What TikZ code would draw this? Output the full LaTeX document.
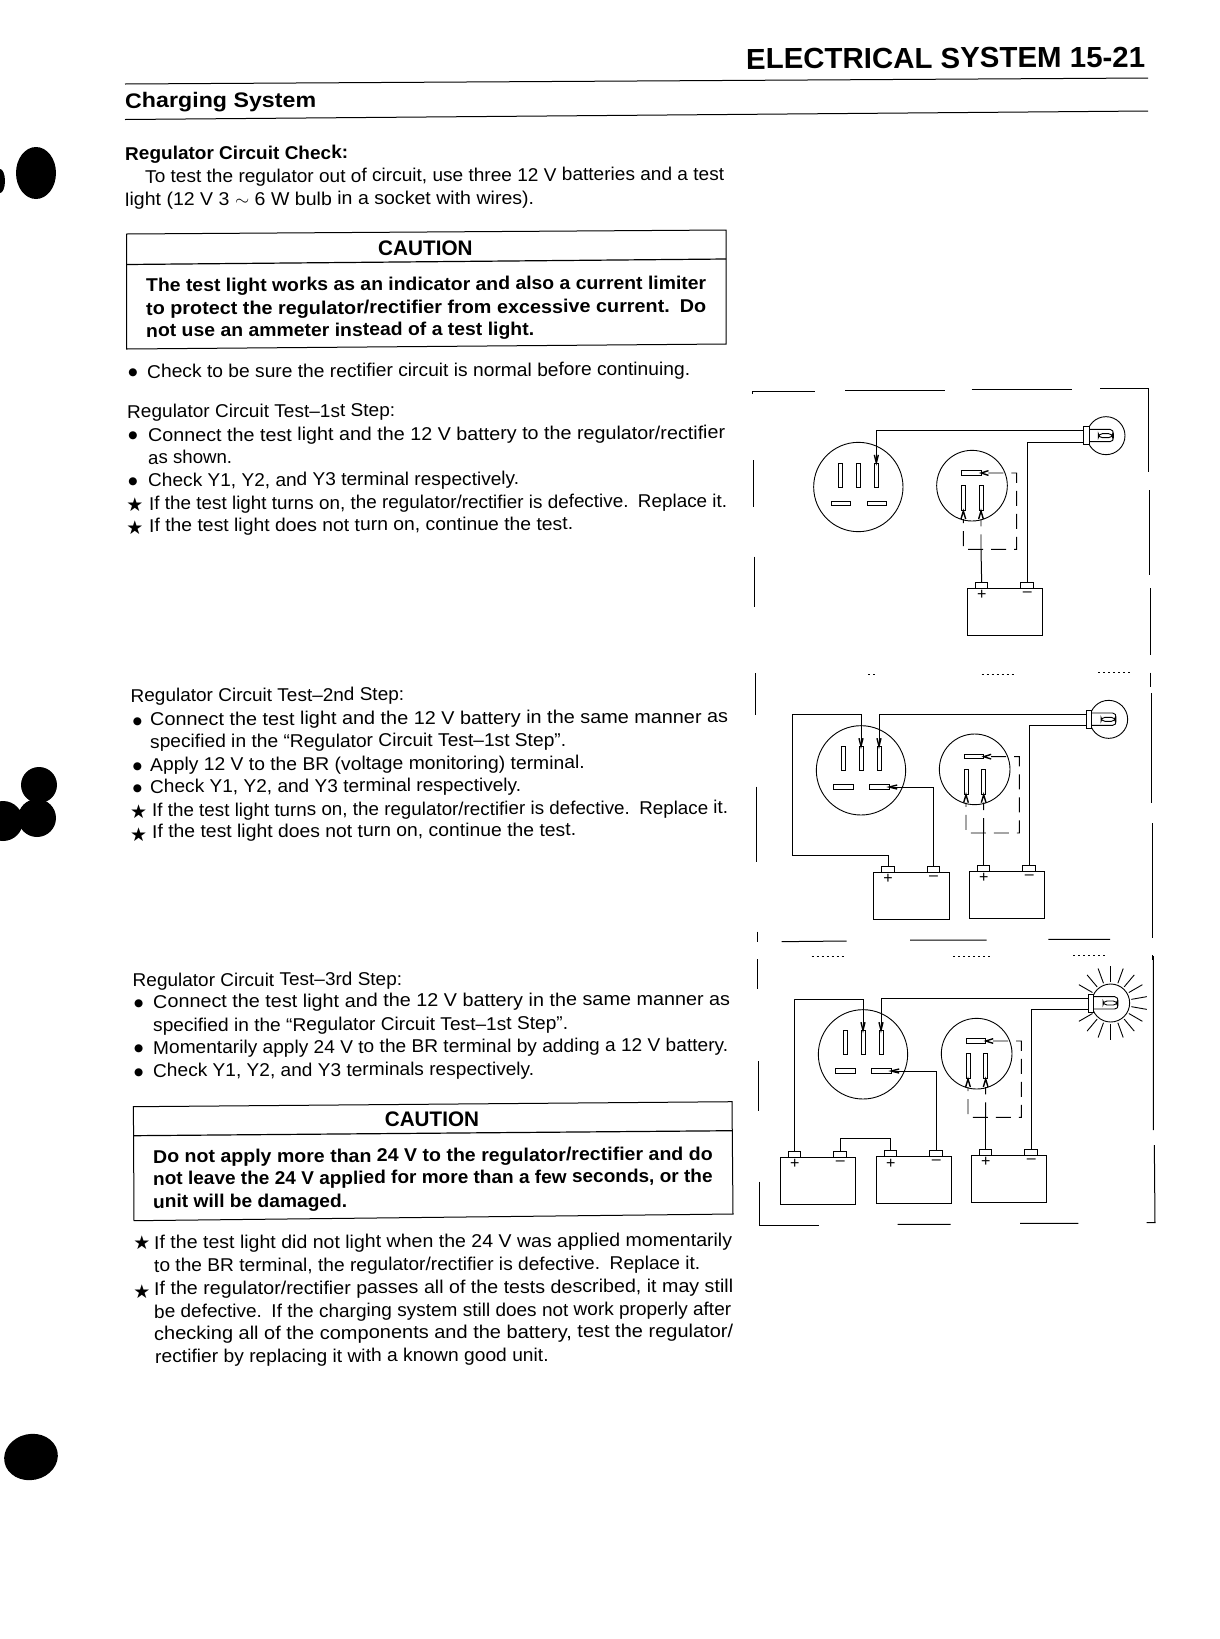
\documentclass[tikz,border=0pt]{standalone}
\usepackage{fontspec}
\setmainfont{Liberation Sans}
\newfontfamily\symfont{DejaVu Sans}
\tikzset{
  linetxt/.style={anchor=base west,inner sep=0pt,rotate=0.28,font=\fontsize{18.5}{21}\selectfont},
  boldtxt/.style={linetxt,font=\fontsize{18.5}{21}\selectfont\bfseries},
  headtxt/.style={linetxt,font=\fontsize{21}{24}\selectfont\bfseries},
  titletxt/.style={linetxt,font=\fontsize{29}{30}\selectfont\bfseries},
  dotmark/.style={inner sep=0pt,font=\fontsize{10.5}{11}\selectfont\symfont},
  starmark/.style={inner sep=0pt,font=\fontsize{19}{19}\selectfont\symfont},
  rulecut/.style={line width=1pt},
  framepiece/.style={line width=1pt},
  faintdots/.style={line width=0.8pt,dash pattern=on 2pt off 3pt},
  wire/.style={line width=1pt},
  dashwire/.style={line width=0.9pt,dash pattern=on 15pt off 8pt},
  forkline/.style={line width=1.4pt},
  rayline/.style={line width=0.9pt},
  plugface/.style={circle,draw,fill=white,line width=0.9pt,minimum size=268pt,inner sep=0pt},
  sensface/.style={circle,draw,fill=white,line width=0.9pt,minimum size=212pt,inner sep=0pt},
  vblade/.style={rectangle,draw,fill=white,line width=0.9pt,minimum width=12pt,minimum height=72pt,inner sep=0pt},
  hblade/.style={rectangle,draw,fill=white,line width=0.9pt,minimum width=58pt,minimum height=13pt,inner sep=0pt},
  batbox/.style={rectangle,draw,fill=white,line width=0.9pt,minimum width=226pt,minimum height=140pt,inner sep=0pt},
  batpost/.style={rectangle,draw,fill=white,line width=0.9pt,minimum width=37pt,minimum height=18pt,inner sep=0pt},
  batsign/.style={inner sep=0pt,font=\fontsize{48}{48}\selectfont},
  bulbglass/.style={circle,draw,line width=0.9pt,minimum size=114pt,inner sep=0pt},
  bulbbase/.style={rectangle,draw,fill=white,line width=0.9pt,minimum width=16pt,minimum height=54pt,inner sep=0pt}
}
\newcommand{\fitto}[2]{\resizebox{#1pt}{\height}{#2}}
\newcommand{\crimp}[3]{\draw[forkline] #1 ++#2 -- #1 -- ++#3;}
\newcommand{\regplug}[3]{%
  \begin{scope}[shift={(#2,#3)}]
    \node[plugface] (#1) at (0,0) {};
    \node[vblade] (#1a) at (-53,-36) {};
    \node[vblade] (#1b) at (0,-36) {};
    \node[vblade] (#1c) at (54,-36) {};
    \node[hblade] (#1d) at (-53,50) {};
    \node[hblade] (#1e) at (55,50) {};
  \end{scope}}
\newcommand{\sensplug}[3]{%
  \begin{scope}[shift={(#2,#3)}]
    \node[sensface] (#1) at (0,0) {};
    \node[hblade] (#1h) at (-2,-38) {};
    \node[vblade,minimum height=75pt] (#1l) at (-26,38) {};
    \node[vblade,minimum height=75pt] (#1r) at (27,38) {};
    \crimp{(#1h.east)}{(22,-7)}{(22,7)}
    \crimp{(#1l.south)}{(-7,24)}{(7,24)}
    \crimp{(#1r.south)}{(-7,24)}{(7,24)}
    \coordinate (#1c) at (134,191);
    \coordinate (#1e) at (-26,191);
    \coordinate (#1j) at (27,191);
    \draw[dashwire] (#1h.east) ++(22,0) -| (#1c) -- (#1e) -- (-26,100);
    \draw[dashwire] (#1j) -- (27,100);
  \end{scope}}
\newcommand{\testbulb}[3]{%
  \begin{scope}[shift={(#2,#3)}]
    \node[bulbglass] (#1) at (0,0) {};
    \draw[line width=0.9pt] (-51,-19) -- (12,-19) .. controls (20,-19) and (22,-12) .. (22,-6) -- (22,6) .. controls (22,12) and (20,18) .. (12,18) -- (-51,18);
    \draw[line width=0.9pt,rounded corners=4pt] (-23,-6) rectangle (20,6);
    \node[bulbbase] (#1s) at (-59,0) {};
    \coordinate (#1t) at (-67,-15);
    \coordinate (#1b) at (-67,19);
  \end{scope}}
\newcommand{\testbat}[3]{%
  \begin{scope}[shift={(#2,#3)}]
    \node[batpost] (#1p) at (43,-9) {};
    \node[batpost] (#1n) at (179,-9) {};
    \node[batbox] (#1) at (113,70) {};
    \node[batsign] (#1ps) at (43,21) {+};
    \node[batsign] (#1ns) at (180,17) {–};
  \end{scope}}
\begin{document}
\begin{tikzpicture}[x=1pt,y=-1pt]
  \useasboundingbox (0,0) rectangle (1219,1639);
  \fill (36,173) ellipse (20 and 26);
  \fill (0,181) ellipse (5 and 12);
  \fill (39,785) circle (18);
  \fill (37,818) circle (19);
  \fill (3,821) circle (20);
  \fill[rotate around={12:(31,1457)}] (31,1457) ellipse (27 and 23);

  \node[titletxt] (pagetitle) at (746,69) {\fitto{399}{ELECTRICAL SYSTEM 15-21}};
  \draw[rulecut] (125,84) -- (1148,78);
  \node[headtxt] (section) at (125,108) {\fitto{191}{Charging System}};
  \draw[rulecut] (125,119.5) -- (1148,111);

  \node[boldtxt] (checkhead) at (125,160) {\fitto{223}{Regulator Circuit Check:}};
  \node[linetxt] (introa) at (145,183) {\fitto{579}{To test the regulator out of circuit, use three 12 V batteries and a test}};
  \node[linetxt] (introb) at (125,206) {\fitto{409}{light (12 V 3 $\sim$ 6 W bulb in a socket with wires).}};

  \draw[line width=1pt] (126.5,234) -- (726,230) -- (726,344) -- (126.5,349) -- cycle;
  \draw[line width=1.2pt] (126.5,264.5) -- (726,259);
  \node[headtxt] (cautiona) at (378,255.7) {\fitto{94.5}{CAUTION}};
  \node[boldtxt] (limita) at (146,291.7) {\fitto{560}{The test light works as an indicator and also a current limiter}};
  \node[boldtxt] (limitb) at (146,315) {\fitto{560}{to protect the regulator/rectifier from excessive current.\enspace Do}};
  \node[boldtxt] (limitc) at (146,337) {\fitto{388}{not use an ammeter instead of a test light.}};

  \node[dotmark] (normdot) at (133,373) {●};
  \node[linetxt] (norm) at (147,378) {\fitto{543}{Check to be sure the rectifier circuit is normal before continuing.}};

  \node[linetxt] (firsthead) at (127,418) {\fitto{268}{Regulator Circuit Test–1st Step:}};
  \node[dotmark] (firstdota) at (133,436) {●};
  \node[linetxt] (firsta) at (148,441.7) {\fitto{577}{Connect the test light and the 12 V battery to the regulator/rectifier}};
  \node[linetxt] (firstb) at (148,464) {\fitto{84}{as shown.}};
  \node[dotmark] (firstdotb) at (133,482) {●};
  \node[linetxt] (firstc) at (148,486.7) {\fitto{371}{Check Y1, Y2, and Y3 terminal respectively.}};
  \node[starmark] (firststara) at (135,505) {★};
  \node[linetxt] (firstd) at (149,510) {\fitto{578}{If the test light turns on, the regulator/rectifier is defective.\enspace Replace it.}};
  \node[starmark] (firststarb) at (135,528) {★};
  \node[linetxt] (firste) at (149,532) {\fitto{424}{If the test light does not turn on, continue the test.}};

  \node[linetxt] (secondhead) at (130.5,702) {\fitto{273.5}{Regulator Circuit Test–2nd Step:}};
  \node[dotmark] (seconddota) at (137.5,721.7) {●};
  \node[linetxt] (seconda) at (150,725.7) {\fitto{578}{Connect the test light and the 12 V battery in the same manner as}};
  \node[linetxt] (secondb) at (150,748) {\fitto{416}{specified in the “Regulator Circuit Test–1st Step”.}};
  \node[dotmark] (seconddotb) at (137.5,766.7) {●};
  \node[linetxt] (secondc) at (150,771) {\fitto{434.6}{Apply 12 V to the BR (voltage monitoring) terminal.}};
  \node[dotmark] (seconddotc) at (137.5,789) {●};
  \node[linetxt] (secondd) at (150,793) {\fitto{371}{Check Y1, Y2, and Y3 terminal respectively.}};
  \node[starmark] (secondstara) at (138.7,811.7) {★};
  \node[linetxt] (seconde) at (152,816.7) {\fitto{576}{If the test light turns on, the regulator/rectifier is defective.\enspace Replace it.}};
  \node[starmark] (secondstarb) at (138.7,835) {★};
  \node[linetxt] (secondf) at (152,838) {\fitto{424}{If the test light does not turn on, continue the test.}};

  \node[linetxt] (thirdhead) at (132.5,986.7) {\fitto{269.5}{Regulator Circuit Test–3rd Step:}};
  \node[dotmark] (thirddota) at (138.7,1004) {●};
  \node[linetxt] (thirda) at (153,1008) {\fitto{577}{Connect the test light and the 12 V battery in the same manner as}};
  \node[linetxt] (thirdb) at (153,1031.7) {\fitto{415}{specified in the “Regulator Circuit Test–1st Step”.}};
  \node[dotmark] (thirddotb) at (138.7,1049) {●};
  \node[linetxt] (thirdc) at (153,1054) {\fitto{575}{Momentarily apply 24 V to the BR terminal by adding a 12 V battery.}};
  \node[dotmark] (thirddotc) at (138.7,1072.7) {●};
  \node[linetxt] (thirdd) at (153,1077) {\fitto{381}{Check Y1, Y2, and Y3 terminals respectively.}};

  \draw[line width=1pt] (133.4,1106.7) -- (732,1101.7) -- (733,1214) -- (134,1220.7) -- cycle;
  \draw[line width=1.2pt] (133.4,1135.7) -- (732,1130.7);
  \node[headtxt] (cautionb) at (384.6,1126.7) {\fitto{94.4}{CAUTION}};
  \node[boldtxt] (limitd) at (153,1163) {\fitto{559.5}{Do not apply more than 24 V to the regulator/rectifier and do}};
  \node[boldtxt] (limite) at (153,1185) {\fitto{559.5}{not leave the 24 V applied for more than a few seconds, or the}};
  \node[boldtxt] (limitf) at (153,1208) {\fitto{194}{unit will be damaged.}};

  \node[starmark] (laststara) at (142,1243) {★};
  \node[linetxt] (lasta) at (154,1249) {\fitto{578}{If the test light did not light when the 24 V was applied momentarily}};
  \node[linetxt] (lastb) at (154,1272) {\fitto{546}{to the BR terminal, the regulator/rectifier is defective.\enspace Replace it.}};
  \node[starmark] (laststarb) at (142,1291.7) {★};
  \node[linetxt] (lastc) at (154,1295) {\fitto{579}{If the regulator/rectifier passes all of the tests described, it may still}};
  \node[linetxt] (lastd) at (154,1318) {\fitto{577}{be defective.\enspace If the charging system still does not work properly after}};
  \node[linetxt] (laste) at (154,1340) {\fitto{579}{checking all of the components and the battery, test the regulator/}};
  \node[linetxt] (lastf) at (155,1363) {\fitto{393.5}{rectifier by replacing it with a known good unit.}};

  \begin{scope}[shift={(740,370)},scale=1/3,transform shape]
    \draw[framepiece] (37,72) -- (37,65) -- (225,65) (315,60) -- (615,60) (695,58) -- (995,58);
    \draw[framepiece] (1080,55) -- (1225,55) -- (1225,305) (1228,360) -- (1228,615) (1231,655) -- (1231,855);
    \draw[framepiece] (40,270) -- (40,410) (43,560) -- (43,712);
    \regplug{regA}{355}{351}
    \sensplug{sensA}{696}{347}
    \testbulb{bulbA}{1098}{197}
    \testbat{batA}{682}{655}
    \crimp{(regAc.north)}{(-6,-24)}{(6,-24)}
    \draw[wire] (bulbAt) -| (regAc.north);
    \draw[wire] (bulbAb) -| (batAn.north);
    \draw[wire] (sensAj) -- (batAp.north);
  \end{scope}

  \begin{scope}[shift={(740,660)},scale=1/3,transform shape]
    \draw[faintdots] (385,42) -- (410,42) (725,42) -- (825,42) (1075,38) -- (1180,38);
    \draw[faintdots] (215,890) -- (320,890) (640,890) -- (755,890) (1000,887) -- (1105,887);
    \draw[framepiece] (47,40) -- (47,165) (50,380) -- (50,605) (52,815) -- (52,845);
    \draw[framepiece] (1231,38) -- (1231,80) (1234,100) -- (1234,430) (1237,490) -- (1237,835) (1238,885) -- (1238,900);
    \draw[framepiece] (125,845) -- (320,843) (510,840) -- (740,840) (925,838) -- (1110,838);
    \regplug{regB}{363}{331}
    \sensplug{sensB}{704}{328}
    \testbulb{bulbB}{1106}{178}
    \testbat{batB}{401}{637}
    \testbat{batC}{688}{634}
    \crimp{(regBb.north)}{(-6,-24)}{(6,-24)}
    \crimp{(regBc.north)}{(-6,-24)}{(6,-24)}
    \crimp{(regBe.east)}{(24,-6)}{(24,6)}
    \coordinate (loopBa) at (157,163);
    \coordinate (loopBb) at (157,585);
    \draw[wire] (regBb.north) |- (loopBa) -- (loopBb) -| (batBp.north);
    \draw[wire] (bulbBt) -| (regBc.north);
    \draw[wire] (regBe.east) -| (batBn.north);
    \draw[wire] (sensBj) -- (batCp.north);
    \draw[wire] (bulbBb) -| (batCn.north);
  \end{scope}

  \begin{scope}[shift={(740,940)},scale=1/3,transform shape]
    \draw[framepiece] (52,58) -- (52,148) (55,363) -- (55,512) (58,725) -- (58,855) -- (238,855);
    \draw[framepiece] (473,853) -- (632,853) (840,850) -- (1015,850) (1220,848) -- (1245,848) -- (1243,615) (1240,48) -- (1240,570);
    \regplug{regC}{369}{343}
    \sensplug{sensC}{710}{341}
    \testbulb{bulbC}{1112}{189}
    \testbat{batD}{121}{652}
    \testbat{batE}{409}{650}
    \testbat{batF}{694}{646}
    \begin{scope}[shift={(1112,189)}]
      \foreach \ang in {90,70,50,30,10,-10,-30,-50,-70,-90,-110,-130,-150,150,130,110}{
        \draw[rayline] (\ang:63) -- (\ang:110);
      }
    \end{scope}
    \crimp{(regCb.north)}{(-6,-24)}{(6,-24)}
    \crimp{(regCc.north)}{(-6,-24)}{(6,-24)}
    \crimp{(regCe.east)}{(24,-6)}{(24,6)}
    \coordinate (loopCa) at (163,177);
    \coordinate (linkC) at (303,596);
    \draw[wire] (regCb.north) |- (loopCa) -| (batDp.north);
    \draw[wire] (bulbCt) -| (regCc.north);
    \draw[wire] (regCe.east) -| (batEn.north);
    \draw[wire] (batDn.north) |- (linkC) -| (batEp.north);
    \draw[wire] (sensCj) -- (batFp.north);
    \draw[wire] (bulbCb) -| (batFn.north);
  \end{scope}
\end{tikzpicture}
\end{document}
